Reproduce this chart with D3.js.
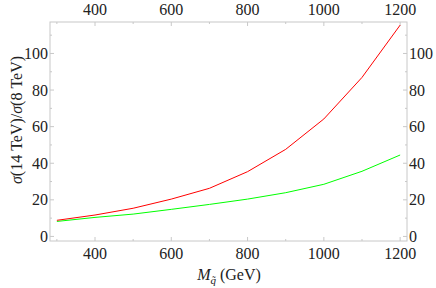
<html>
<head>
<script src="https://d3js.org/d3.v7.min.js"></script>
<style>
  body { margin: 0; background: white; }
  text { font-family: "Liberation Serif", "DejaVu Serif", serif; }
</style>
</head>
<body>
<svg id="chart" width="436" height="288"></svg>
<script>
const masses = [300, 400, 500, 600, 700, 800, 900, 1000, 1100, 1200];
const redRatio = [8.8, 11.7, 15.4, 20.4, 26.3, 35.4, 47.6, 64.2, 86.9, 115.5];
const greenRatio = [8.2, 10.4, 12.2, 14.8, 17.5, 20.4, 23.9, 28.5, 35.6, 44.5];
const xTicks = [400, 600, 800, 1000, 1200];
const yTicks = [0, 20, 40, 60, 80, 100];

const svg = d3.select("#chart");
const frame = { left: 50, right: 407, top: 22, bottom: 241 };

const x = d3.scaleLinear().domain([282, 1218]).range([frame.left, frame.right]);
const y = d3.scaleLinear().domain([-2.5, 117.2]).range([frame.bottom, frame.top]);

const frameColor = "#c8c8c8";

// frame
svg.append("rect")
   .attr("x", frame.left).attr("y", frame.top)
   .attr("width", frame.right - frame.left).attr("height", frame.bottom - frame.top)
   .attr("fill", "none").attr("stroke", frameColor).attr("stroke-width", 1);

const xMinor = d3.range(300, 1201, 100);
const yMinor = d3.range(0, 111, 10);

// ticks on all four sides
xMinor.forEach(v => {
    const len = v % 200 === 0 ? 4 : 2;
    svg.append("line").attr("x1", x(v)).attr("x2", x(v))
       .attr("y1", frame.bottom).attr("y2", frame.bottom - len)
       .attr("stroke", frameColor);
    svg.append("line").attr("x1", x(v)).attr("x2", x(v))
       .attr("y1", frame.top).attr("y2", frame.top + len)
       .attr("stroke", frameColor);
});
yMinor.forEach(v => {
    const len = v % 20 === 0 ? 4 : 2;
    svg.append("line").attr("y1", y(v)).attr("y2", y(v))
       .attr("x1", frame.left).attr("x2", frame.left + len)
       .attr("stroke", frameColor);
    svg.append("line").attr("y1", y(v)).attr("y2", y(v))
       .attr("x1", frame.right).attr("x2", frame.right - len)
       .attr("stroke", frameColor);
});

// tick labels
svg.selectAll("text.xb").data(xTicks).join("text")
   .attr("class", "xb")
   .attr("x", d => x(d)).attr("y", 259)
   .attr("text-anchor", "middle").attr("font-size", 16).attr("fill", "#222")
   .text(d => d);
svg.selectAll("text.xt").data(xTicks).join("text")
   .attr("class", "xt")
   .attr("x", d => x(d)).attr("y", 15)
   .attr("text-anchor", "middle").attr("font-size", 16).attr("fill", "#222")
   .text(d => d);
svg.selectAll("text.yl").data(yTicks).join("text")
   .attr("class", "yl")
   .attr("x", frame.left - 2).attr("y", d => y(d) + 5.5)
   .attr("text-anchor", "end").attr("font-size", 16).attr("fill", "#222")
   .text(d => d);
svg.selectAll("text.yr").data(yTicks).join("text")
   .attr("class", "yr")
   .attr("x", frame.right + 2).attr("y", d => y(d) + 5.5)
   .attr("text-anchor", "start").attr("font-size", 16).attr("fill", "#222")
   .text(d => d);

// axis labels
const xl = svg.append("text").attr("x", 229).attr("y", 280)
   .attr("text-anchor", "middle").attr("font-size", 16).attr("fill", "#222");
xl.append("tspan").attr("font-style", "italic").text("M");
xl.append("tspan").attr("font-style", "italic").attr("font-size", 11)
  .attr("dy", 4).text("q\u0303");
xl.append("tspan").attr("dy", -4).text(" (GeV)");

const yl = svg.append("text")
   .attr("transform", "translate(22,120) rotate(-90)")
   .attr("text-anchor", "middle").attr("font-size", 16).attr("fill", "#222");
yl.append("tspan").attr("font-style", "italic").text("\u03c3");
yl.append("tspan").text("(14 TeV)/");
yl.append("tspan").attr("font-style", "italic").text("\u03c3");
yl.append("tspan").text("(8 TeV)");

// curves
const line = d3.line().x((d, i) => x(masses[i])).y(d => y(d));
svg.append("path").datum(greenRatio).attr("d", line)
   .attr("fill", "none").attr("stroke", "#00ff00").attr("stroke-width", 1);
svg.append("path").datum(redRatio).attr("d", line)
   .attr("fill", "none").attr("stroke", "#ff0000").attr("stroke-width", 1);
</script>
</body>
</html>
